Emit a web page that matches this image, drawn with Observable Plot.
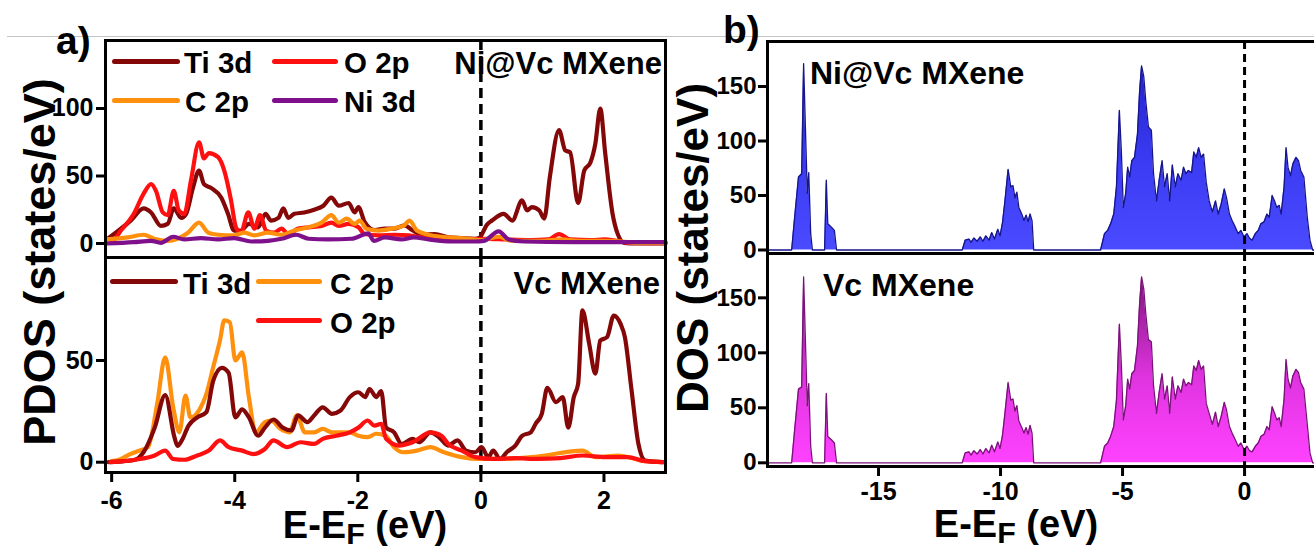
<!DOCTYPE html>
<html><head><meta charset="utf-8">
<script src="https://cdn.jsdelivr.net/npm/d3@7"></script>
<script src="https://cdn.jsdelivr.net/npm/@observablehq/plot@0.6"></script>
<style>
html,body{margin:0;padding:0;background:#fff;overflow:hidden;}
#root{position:relative;width:1314px;height:551px;overflow:hidden;font-family:"Liberation Sans",Arial,Helvetica,sans-serif;color:#000;background:#fff;}
#root svg{position:absolute;background:transparent;}
.lbl{position:absolute;white-space:nowrap;line-height:1;font-weight:bold;color:#000;}
.leg{position:absolute;height:5px;border-radius:2.5px;}
.sub{font-size:0.8em;position:relative;top:0.18em;}
</style></head><body><div id="root"></div>
<script>
// ---------- data: panel a, Ni@Vc MXene (energy eV, PDOS states/eV) ----------
const niTi3d = [[-6.08,3],[-5.85,11],[-5.69,17],[-5.48,26],[-5.36,23],[-5.20,13],[-5.09,14.5],[-4.99,26],[-4.87,19],[-4.79,22],[-4.68,41],[-4.58,54],[-4.50,44],[-4.38,41],[-4.22,34],[-4.11,22],[-4.01,9.6],[-3.90,9.6],[-3.77,14.5],[-3.62,12],[-3.50,22],[-3.41,17],[-3.29,19],[-3.21,26],[-3.13,19],[-3.03,22],[-2.87,23],[-2.71,25],[-2.56,28],[-2.43,34],[-2.31,28],[-2.15,30],[-2.05,23],[-1.99,27],[-1.89,16],[-1.73,10],[-1.56,11],[-1.40,11],[-1.24,13.5],[-1.12,10],[-0.96,6.5],[-0.75,7],[-0.52,4.5],[-0.31,4],[-0.10,3.5],[-0.03,4],[0.10,14],[0.18,17],[0.37,22],[0.51,17],[0.67,32],[0.75,24.5],[0.83,27],[0.95,24.5],[1.03,18.5],[1.12,49],[1.27,84],[1.37,69],[1.45,67.5],[1.58,30],[1.68,54],[1.78,60],[1.86,74],[1.94,100],[2.02,67],[2.14,22],[2.22,7.5],[2.33,0.5],[2.5,0],[3.0,0]];
const niO2p = [[-6.08,3.5],[-5.98,2.5],[-5.85,9.6],[-5.64,22],[-5.48,37],[-5.36,44],[-5.28,39],[-5.17,23],[-5.09,21],[-4.99,39],[-4.91,24.5],[-4.82,22],[-4.71,47],[-4.58,75],[-4.50,63],[-4.42,67],[-4.27,64],[-4.17,54],[-4.06,32],[-3.98,12],[-3.90,8],[-3.78,23],[-3.68,11],[-3.59,21],[-3.49,9.6],[-3.36,8],[-3.24,11],[-3.13,7],[-2.97,11],[-2.80,12],[-2.59,13],[-2.43,15.5],[-2.31,13],[-2.15,14.5],[-1.99,12],[-1.89,7],[-1.66,6],[-1.40,6.5],[-1.17,6],[-0.96,4.5],[-0.75,3.5],[-0.20,3],[0.10,3.5],[0.40,3],[0.80,2.5],[1.10,3],[1.27,7],[1.45,3],[1.80,2.5],[2.00,3],[2.20,2],[2.40,0.5],[3.0,0.3]];
const niC2p = [[-6.08,3],[-5.74,4.5],[-5.48,6.5],[-5.31,3.5],[-5.09,2],[-4.76,8],[-4.58,15.5],[-4.43,8],[-4.27,6.5],[-4.01,6],[-3.85,8],[-3.68,6],[-3.46,8],[-3.24,6.5],[-3.03,9.6],[-2.80,12],[-2.59,15.5],[-2.43,21],[-2.31,15.5],[-2.18,18.5],[-2.05,14.5],[-1.97,17],[-1.86,11],[-1.66,9.6],[-1.45,11],[-1.26,13],[-1.16,17],[-1.04,9.6],[-0.85,6.5],[-0.52,4.5],[-0.20,3.5],[0.00,2.5],[0.29,5],[0.50,2],[1.00,2],[1.30,3],[1.60,2],[2.00,2],[2.30,1.5],[2.50,0.5],[3.0,0.5]];
const niNi3d = [[-6.08,0],[-5.64,1],[-5.36,2],[-5.20,0.5],[-5.00,5],[-4.82,3],[-4.55,4],[-4.27,3],[-4.01,4],[-3.73,1.5],[-3.46,2],[-3.24,3.5],[-3.00,6.5],[-2.80,3.5],[-2.48,3],[-2.10,3.5],[-1.83,7.5],[-1.74,2],[-1.56,4.5],[-1.29,3],[-1.09,4.5],[-0.85,3],[-0.47,1.5],[-0.10,1.5],[0.05,2],[0.29,9],[0.45,3],[0.70,1.5],[1.50,1],[3.0,1]];

// ---------- data: panel a, Vc MXene ----------
const vcTi3d = [[-6.05,0],[-5.88,0.3],[-5.62,1.2],[-5.48,5],[-5.30,17],[-5.13,33],[-4.98,12.3],[-4.93,8],[-4.86,10.7],[-4.75,18],[-4.61,22],[-4.46,24.6],[-4.35,40],[-4.21,46.4],[-4.10,44],[-3.99,22],[-3.88,26],[-3.77,22],[-3.62,13],[-3.51,17],[-3.37,21],[-3.22,17],[-3.08,15.6],[-2.97,23],[-2.82,19.7],[-2.71,23],[-2.57,27],[-2.42,23.8],[-2.28,25.4],[-2.13,32],[-1.99,34.4],[-1.88,32],[-1.81,36],[-1.70,32],[-1.62,35],[-1.54,17],[-1.41,14.7],[-1.29,9],[-1.11,11.5],[-1.00,9.8],[-0.82,14.7],[-0.68,12.3],[-0.53,8.2],[-0.38,10.7],[-0.24,5.7],[-0.09,4.9],[0.01,7.4],[0.12,2.5],[0.20,5.7],[0.31,1.6],[0.42,4.9],[0.56,8.2],[0.67,13],[0.81,14.7],[0.89,18.9],[0.99,23.8],[1.08,36.6],[1.22,29.5],[1.33,32],[1.42,17],[1.51,32],[1.58,38.5],[1.65,74.6],[1.76,58.2],[1.86,43.5],[1.94,59.8],[2.05,61.5],[2.16,72.1],[2.27,68],[2.34,61.5],[2.45,35],[2.56,9],[2.67,0.8],[2.96,0]];
const vcC2p = [[-6.0,0.5],[-5.88,1.2],[-5.70,4],[-5.55,5.7],[-5.41,7.4],[-5.26,28.7],[-5.13,51.6],[-5.00,27],[-4.90,14.7],[-4.80,32.8],[-4.72,22],[-4.57,26],[-4.46,33.6],[-4.35,46.7],[-4.24,59.8],[-4.17,69.7],[-4.08,68.8],[-3.99,50],[-3.88,54],[-3.77,32],[-3.66,14.7],[-3.51,19.7],[-3.41,20.5],[-3.26,16.4],[-3.11,14.7],[-2.99,23],[-2.86,14.7],[-2.71,14.7],[-2.57,16.4],[-2.42,14.7],[-2.28,14.7],[-2.13,14.7],[-1.99,13],[-1.84,12.3],[-1.70,14],[-1.55,13],[-1.41,7.4],[-1.26,4.9],[-1.04,5.7],[-0.82,7.4],[-0.60,4.9],[-0.31,2.5],[-0.02,1.6],[0.34,1.6],[0.92,2.8],[1.65,5.7],[1.87,2.5],[2.23,3.3],[2.67,0.5],[2.96,0]];
const vcO2p = [[-6.02,0],[-5.62,1.2],[-5.30,3.3],[-5.13,5.7],[-5.00,1.6],[-4.82,1.2],[-4.61,3.3],[-4.42,5.7],[-4.24,10.7],[-4.10,7.4],[-3.88,5.7],[-3.70,4],[-3.51,6.5],[-3.37,10.7],[-3.15,7.4],[-2.93,9.8],[-2.71,9],[-2.57,11.5],[-2.35,13],[-2.13,14.7],[-1.99,17],[-1.84,20.5],[-1.73,18],[-1.62,18.9],[-1.54,11.5],[-1.33,8.2],[-1.11,9.8],[-0.82,14.7],[-0.64,13],[-0.53,9],[-0.31,5.7],[-0.09,2.5],[0.20,1.6],[0.56,2],[0.92,1.6],[1.29,2],[1.65,3.3],[2.02,2.5],[2.38,2.5],[2.67,0.5],[2.96,0]];

// ---------- data: panel b, total DOS ----------
const niDos = [[-19.55,0],[-18.56,0],[-18.45,27],[-18.28,67],[-18.15,70],[-18.07,171],[-17.99,107],[-17.92,52],[-17.86,71],[-17.78,15],[-17.71,0],[-17.21,0],[-17.14,64],[-17.08,24],[-16.93,21],[-16.81,18],[-16.72,0],[-11.57,0],[-11.45,9],[-11.29,10],[-11.21,7],[-11.09,11],[-10.96,8],[-10.83,12],[-10.72,8],[-10.60,13],[-10.47,9],[-10.36,16],[-10.25,10],[-10.11,19],[-10.02,13],[-9.92,25],[-9.82,45],[-9.69,74],[-9.58,58],[-9.49,59],[-9.41,48],[-9.33,53],[-9.25,39],[-9.13,33],[-9.04,27],[-8.95,32],[-8.87,26],[-8.79,33],[-8.71,27],[-8.64,0],[-5.90,0],[-5.74,15],[-5.61,18],[-5.49,24],[-5.36,33],[-5.25,58],[-5.13,128],[-5.05,91],[-4.97,39],[-4.87,52],[-4.79,76],[-4.71,67],[-4.62,82],[-4.51,85],[-4.39,106],[-4.30,146],[-4.22,169],[-4.13,159],[-4.05,137],[-3.94,113],[-3.82,110],[-3.73,70],[-3.61,45],[-3.50,64],[-3.38,82],[-3.28,58],[-3.17,70],[-3.07,45],[-2.96,78],[-2.84,58],[-2.73,70],[-2.60,64],[-2.50,76],[-2.40,70],[-2.30,73],[-2.17,71],[-2.08,90],[-1.98,85],[-1.88,94],[-1.78,85],[-1.68,88],[-1.57,62],[-1.45,45],[-1.32,35],[-1.19,45],[-1.08,33],[-0.96,42],[-0.83,56],[-0.74,48],[-0.62,33],[-0.51,27],[-0.38,21],[-0.26,15],[-0.15,18],[-0.02,12],[0.10,15],[0.20,11],[0.31,9],[0.44,15],[0.56,18],[0.67,24],[0.80,26],[0.92,33],[1.01,30],[1.13,50],[1.23,45],[1.32,39],[1.42,41],[1.50,33],[1.62,58],[1.70,94],[1.78,76],[1.88,68],[1.98,79],[2.11,85],[2.21,82],[2.30,73],[2.43,67],[2.57,30],[2.68,9],[2.79,0],[3.03,0]];
const vcDos = [[-19.55,0],[-18.56,0],[-18.45,27],[-18.28,67],[-18.15,69],[-18.07,169],[-17.99,106],[-17.92,52],[-17.86,72],[-17.78,15],[-17.71,0],[-17.21,0],[-17.14,63],[-17.08,24],[-16.93,21],[-16.81,18],[-16.72,0],[-11.57,0],[-11.45,9],[-11.29,10],[-11.21,7],[-11.09,11],[-10.96,8],[-10.83,12],[-10.72,8],[-10.60,13],[-10.47,9],[-10.36,16],[-10.25,10],[-10.11,19],[-10.02,13],[-9.92,25],[-9.82,45],[-9.69,73],[-9.58,57],[-9.49,58],[-9.41,47],[-9.33,52],[-9.25,38],[-9.13,32],[-9.04,27],[-8.95,32],[-8.87,26],[-8.79,34],[-8.71,27],[-8.64,0],[-5.90,0],[-5.74,15],[-5.61,18],[-5.49,24],[-5.36,33],[-5.25,57],[-5.13,126],[-5.05,90],[-4.97,39],[-4.87,52],[-4.79,76],[-4.71,67],[-4.62,81],[-4.51,84],[-4.39,106],[-4.30,145],[-4.22,169],[-4.13,158],[-4.05,136],[-3.94,112],[-3.82,110],[-3.73,70],[-3.61,45],[-3.50,64],[-3.38,81],[-3.28,58],[-3.17,70],[-3.07,45],[-2.96,78],[-2.84,58],[-2.73,70],[-2.60,64],[-2.50,76],[-2.40,70],[-2.30,73],[-2.17,71],[-2.08,88],[-1.98,84],[-1.88,93],[-1.78,85],[-1.68,88],[-1.57,54],[-1.45,45],[-1.32,35],[-1.19,46],[-1.08,33],[-0.96,42],[-0.83,55],[-0.74,48],[-0.62,33],[-0.51,27],[-0.38,21],[-0.26,15],[-0.15,18],[-0.02,12],[0.10,15],[0.20,11],[0.31,10],[0.44,15],[0.56,18],[0.67,24],[0.80,26],[0.92,33],[1.01,30],[1.13,51],[1.23,45],[1.32,39],[1.42,41],[1.50,33],[1.62,58],[1.70,94],[1.78,76],[1.88,68],[1.98,79],[2.11,85],[2.21,82],[2.30,73],[2.43,67],[2.57,35],[2.68,9],[2.79,0],[3.03,0]];

// ---------- ticks, names, colours ----------
const aTicksX = [-6, -4, -2, 0, 2];
const aTopTicksY = [0, 50, 100];
const aBotTicksY = [0, 50];
const bTicksX = [-15, -10, -5, 0];
const bTicksY = [0, 50, 100, 150];
const orbitalNames = ["Ti 3d", "O 2p", "C 2p", "Ni 3d"];
const orbitalColors = {"Ti 3d": "#850808", "O 2p": "#ff1010", "C 2p": "#ff900e", "Ni 3d": "#7e108c"};
const systemNames = ["Ni@Vc MXene", "Vc MXene"];

const FONT = '"Liberation Sans", Arial, Helvetica, sans-serif';
const root = document.getElementById("root");
const rows = pairs => pairs.map(([e, v]) => ({e, v}));

function placeSvg(svg, left, top) { svg.style.left = left + "px"; svg.style.top = top + "px"; root.appendChild(svg); }

function pdosPlot(series, o) {
  const marks = [
    Plot.ruleX([0], {stroke: "#000", strokeWidth: 3.5, strokeDasharray: "10,6"}),
    ...series.map(s => Plot.line(rows(s.data), {x: "e", y: "v", stroke: orbitalColors[s.name], strokeWidth: 4.2, curve: "monotone-x", strokeLinejoin: "round"})),
    Plot.frame({stroke: "#000", strokeWidth: 3}),
    Plot.axisY({ticks: o.yTicks, tickSize: 9, tickPadding: 3, strokeWidth: 3, fontSize: 25, fontWeight: "bold", fontFamily: FONT, label: null, tickFormat: d => String(d)})
  ];
  if (o.xTicks) marks.push(Plot.axisX({ticks: o.xTicks, tickSize: 10, tickPadding: 9, strokeWidth: 3, fontSize: 25, fontWeight: "bold", fontFamily: FONT, label: null, tickFormat: d => String(d)}));
  return Plot.plot({
    width: 670, height: o.height, marginLeft: 105, marginRight: 5, marginTop: o.mt, marginBottom: o.mb,
    x: o.xTicks ? {domain: [-6.1, 3.0]} : {domain: [-6.1, 3.0], axis: null},
    y: {domain: o.yDomain},
    style: {fontFamily: FONT, color: "#000", background: "transparent", overflow: "visible"},
    marks
  });
}

function dosPlot(data, o) {
  const marks = [
    Plot.areaY(rows(data), {x: "e", y: "v", fill: `url(#${o.gid})`, curve: "linear"}),
    Plot.lineY(rows(data), {x: "e", y: "v", stroke: o.edge, strokeWidth: 1.3, curve: "linear"}),
    Plot.ruleX([0], {stroke: "#000", strokeWidth: 3, strokeDasharray: "8,5"}),
    Plot.frame({stroke: "#000", strokeWidth: 3}),
    Plot.axisY({ticks: bTicksY, tickSize: 9, tickPadding: 2, strokeWidth: 3, fontSize: 24, fontWeight: "bold", fontFamily: FONT, label: null, tickFormat: d => String(d)})
  ];
  if (o.xTicks) marks.push(Plot.axisX({ticks: o.xTicks, tickSize: 10, tickPadding: 6, strokeWidth: 3, fontSize: 25, fontWeight: "bold", fontFamily: FONT, label: null, tickFormat: d => String(d)}));
  const svg = Plot.plot({
    width: 630, height: o.height, marginLeft: 77, marginRight: 2, marginTop: o.mt, marginBottom: o.mb,
    x: o.xTicks ? {domain: [-19.55, 3.03]} : {domain: [-19.55, 3.03], axis: null},
    y: {domain: o.yDomain},
    style: {fontFamily: FONT, color: "#000", background: "transparent", overflow: "visible"},
    marks
  });
  // vertical gradient, in pixel space of this plot
  const inner = o.height - o.mt - o.mb;
  const yPix = v => o.mt + (o.yDomain[1] - v) / (o.yDomain[1] - o.yDomain[0]) * inner;
  const ns = "http://www.w3.org/2000/svg";
  const defs = document.createElementNS(ns, "defs");
  const g = document.createElementNS(ns, "linearGradient");
  g.setAttribute("id", o.gid); g.setAttribute("gradientUnits", "userSpaceOnUse");
  g.setAttribute("x1", 0); g.setAttribute("x2", 0);
  g.setAttribute("y1", yPix(0)); g.setAttribute("y2", yPix(170));
  [["0", o.c0], ["0.45", o.cm], ["1", o.c1]].forEach(([off, c]) => {
    const s = document.createElementNS(ns, "stop"); s.setAttribute("offset", off); s.setAttribute("stop-color", c); g.appendChild(s);
  });
  defs.appendChild(g); svg.insertBefore(defs, svg.firstChild);
  return svg;
}

// grey rule at top of the figure
const hr = document.createElement("div");
Object.assign(hr.style, {position: "absolute", left: "7px", top: "36px", width: "1307px", height: "1px", background: "#c4c4c4"});
root.appendChild(hr);

// Panel a  (frame x 105..665; top y 40..257; bottom y 257..472)
placeSvg(pdosPlot([{name: "Ti 3d", data: niTi3d}, {name: "O 2p", data: niO2p}, {name: "C 2p", data: niC2p}, {name: "Ni 3d", data: niNi3d}],
  {height: 275, mt: 40, mb: 18, yDomain: [-10.37, 150.37], yTicks: aTopTicksY}), 0, 0);
placeSvg(pdosPlot([{name: "C 2p", data: vcC2p}, {name: "Ti 3d", data: vcTi3d}, {name: "O 2p", data: vcO2p}],
  {height: 295, mt: 7, mb: 73, yDomain: [-5.06, 100.64], yTicks: aBotTicksY, xTicks: aTicksX}), 0, 250);

// Panel b  (frame x 767..1318; top y 41..253; bottom y 253..466)
placeSvg(dosPlot(niDos, {height: 275, mt: 41, mb: 22, yDomain: [-3.21, 191.3], gid: "gNi", c0: "#4a4aff", cm: "#3c3cf4", c1: "#2222cc", edge: "#16168a"}), 690, 0);
placeSvg(dosPlot(vcDos, {height: 300, mt: 13, mb: 74, yDomain: [-3.36, 190.3], xTicks: bTicksX, gid: "gVc", c0: "#ff42ff", cm: "#e034e0", c1: "#7e167e", edge: "#7a127a"}), 690, 240);

// ---------- text & legends ----------
function label(html, x, cy, fs, anchor) {
  const d = document.createElement("div");
  d.className = "lbl"; d.innerHTML = html; d.style.fontSize = fs + "px";
  d.style.top = (cy - 0.49 * fs) + "px";
  if (anchor === "end") d.style.right = (1314 - x) + "px";
  else if (anchor === "middle") { d.style.left = x + "px"; d.style.transform = "translateX(-50%)"; }
  else d.style.left = x + "px";
  root.appendChild(d);
}
function vlabel(text, cx, cy, fs) {
  const d = document.createElement("div");
  d.className = "lbl"; d.textContent = text; d.style.fontSize = fs + "px";
  d.style.left = cx + "px"; d.style.top = cy + "px";
  d.style.transform = "translate(-50%,-50%) rotate(-90deg)";
  root.appendChild(d);
}
function legLine(x1, x2, cy, color) {
  const d = document.createElement("div");
  d.className = "leg"; d.style.left = x1 + "px"; d.style.width = (x2 - x1) + "px";
  d.style.top = (cy - 2.5) + "px"; d.style.background = color;
  root.appendChild(d);
}

// panel letters
label("a)", 56, 40, 39, "start");
label("b)", 723, 29, 39, "start");

// panel a top legend
legLine(112, 180, 61, orbitalColors["Ti 3d"]); label(orbitalNames[0], 184, 62, 29.5, "start");
legLine(272, 338, 61, orbitalColors["O 2p"]);  label(orbitalNames[1], 344, 62, 29.5, "start");
legLine(112, 180, 100, orbitalColors["C 2p"]); label(orbitalNames[2], 185, 101, 29.5, "start");
legLine(272, 338, 100, orbitalColors["Ni 3d"]); label(orbitalNames[3], 344, 101, 29.5, "start");
label(systemNames[0], 662, 63, 31, "end");

// panel a bottom legend
legLine(110, 178, 281, orbitalColors["Ti 3d"]); label(orbitalNames[0], 183, 283, 29.5, "start");
legLine(256, 322, 281, orbitalColors["C 2p"]);  label(orbitalNames[2], 330, 283, 29.5, "start");
legLine(256, 322, 320, orbitalColors["O 2p"]);  label(orbitalNames[1], 330, 322, 29.5, "start");
label(systemNames[1], 660, 283, 31, "end");

// panel b labels
label(systemNames[0], 810, 73, 32, "start");
label(systemNames[1], 823, 285, 32, "start");

// axis titles
vlabel("PDOS (states/eV)", 39, 262, 45);
vlabel("DOS (states/eV)", 693, 248, 44);
const xt = 'E-E<span class="sub">F</span> (eV)';
label(xt, 365, 525, 38, "middle");
label(xt, 1016, 524, 38, "middle");
</script></body></html>
